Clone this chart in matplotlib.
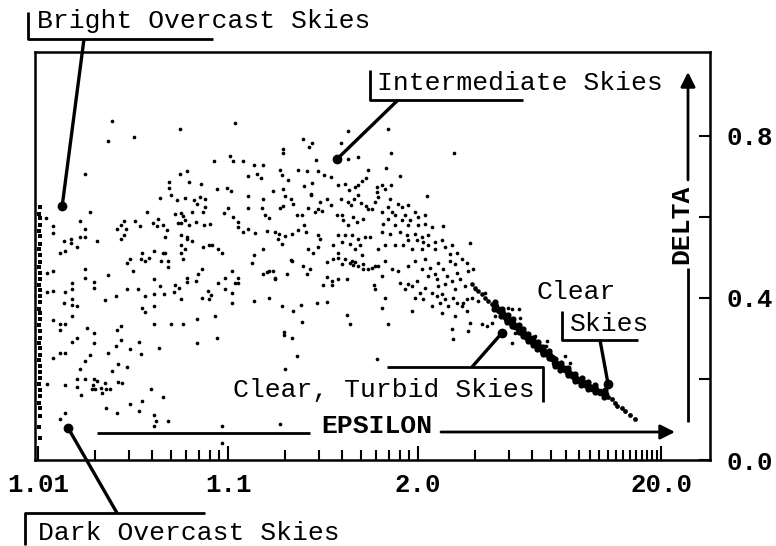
import numpy as np
import matplotlib
matplotlib.use('Agg')
import matplotlib.pyplot as plt

# ---------------- data (epsilon, delta) ----------------
edge_eps = [1.0102, 1.0101, 1.0103, 1.0102, 1.0101, 1.0102, 1.0103, 1.0101, 1.0102, 1.0102,
            1.0101, 1.0103, 1.0102, 1.0101, 1.0102, 1.0103, 1.0102, 1.0101, 1.0102, 1.0103,
            1.0101, 1.0102, 1.0102, 1.0101, 1.0103, 1.0102, 1.0101, 1.0102, 1.0103, 1.0102,
            1.0101, 1.0102, 1.0103, 1.0101, 1.0102, 1.0102, 1.0101, 1.0103]
edge_delta = [0.625, 0.608, 0.598, 0.581, 0.566, 0.552, 0.534, 0.521, 0.507, 0.489,
              0.476, 0.462, 0.447, 0.431, 0.420, 0.404, 0.391, 0.373, 0.362, 0.347,
              0.333, 0.318, 0.302, 0.289, 0.276, 0.259, 0.247, 0.231, 0.218, 0.203,
              0.188, 0.172, 0.158, 0.141, 0.128, 0.109, 0.082, 0.055]

overcast_pts = [
    (1.0245, 0.837), (1.0559, 0.817), (1.0234, 0.788), (1.0320, 0.798), (1.0177, 0.706),
    (1.0559, 0.706), (1.0608, 0.714), (1.0490, 0.686), (1.0490, 0.672), (1.0623, 0.686),
    (1.0721, 0.681), (1.0501, 0.654), (1.0439, 0.647), (1.0539, 0.642), (1.0594, 0.647),
    (1.0662, 0.642), (1.0687, 0.632), (1.0712, 0.649), (1.0188, 0.612), (1.0120, 0.578),
    (1.0120, 0.560), (1.0166, 0.590), (1.0177, 0.570), (1.0177, 0.551), (1.0166, 0.551),
    (1.0149, 0.546), (1.0137, 0.541), (1.0149, 0.536), (1.0160, 0.526), (1.0204, 0.541),
    (1.0130, 0.511), (1.0139, 0.516), (1.0260, 0.570), (1.0273, 0.580), (1.0282, 0.590),
    (1.0290, 0.570), (1.0282, 0.556), (1.0273, 0.546), (1.0324, 0.590), (1.0344, 0.578),
    (1.0375, 0.612), (1.0403, 0.585), (1.0428, 0.595), (1.0423, 0.578), (1.0455, 0.580),
    (1.0478, 0.568), (1.0466, 0.551), (1.0526, 0.607), (1.0566, 0.610), (1.0580, 0.602),
    (1.0566, 0.585), (1.0546, 0.585), (1.0594, 0.593), (1.0623, 0.580), (1.0647, 0.612),
    (1.0679, 0.588), (1.0737, 0.612), (1.0747, 0.580), (1.0566, 0.556), (1.0608, 0.551),
    (1.0608, 0.546), (1.0647, 0.541), (1.0566, 0.531), (1.0594, 0.521), (1.0566, 0.511),
    (1.0353, 0.511), (1.0408, 0.516), (1.0455, 0.511), (1.0466, 0.511), (1.0737, 0.526),
    (1.0120, 0.467), (1.0120, 0.417), (1.0139, 0.415), (1.0151, 0.422), (1.0151, 0.437),
    (1.0177, 0.472), (1.0177, 0.449), (1.0197, 0.440), (1.0197, 0.425), (1.0234, 0.457),
    (1.0294, 0.486), (1.0305, 0.496), (1.0316, 0.467), (1.0348, 0.496), (1.0366, 0.491),
    (1.0384, 0.499), (1.0444, 0.491), (1.0483, 0.491), (1.0483, 0.477), (1.0580, 0.496),
    (1.0730, 0.472), (1.0695, 0.459), (1.0679, 0.442), (1.0608, 0.449), (1.0608, 0.440),
    (1.0526, 0.432), (1.0552, 0.425), (1.0520, 0.415), (1.0408, 0.447), (1.0439, 0.430),
    (1.0408, 0.410), (1.0366, 0.405), (1.0336, 0.422), (1.0294, 0.422), (1.0256, 0.405),
    (1.0225, 0.395), (1.0460, 0.410), (1.0566, 0.398), (1.0730, 0.400), (1.0137, 0.388),
    (1.0151, 0.398), (1.0151, 0.383), (1.0160, 0.380), (1.0151, 0.356), (1.0353, 0.375),
    (1.0366, 0.365), (1.0408, 0.380), (1.0120, 0.346), (1.0130, 0.336), (1.0139, 0.336),
    (1.0130, 0.321), (1.0180, 0.326), (1.0197, 0.314), (1.0160, 0.301), (1.0151, 0.291),
    (1.0260, 0.321), (1.0273, 0.331), (1.0273, 0.296), (1.0256, 0.281), (1.0197, 0.289),
    (1.0408, 0.336), (1.0501, 0.336), (1.0580, 0.336), (1.0687, 0.348), (1.0687, 0.289),
    (1.0340, 0.291), (1.0305, 0.274), (1.0348, 0.262), (1.0433, 0.277), (1.0234, 0.264),
    (1.0188, 0.259), (1.0177, 0.244), (1.0130, 0.264), (1.0139, 0.264), (1.0120, 0.252),
    (1.0265, 0.237), (1.0245, 0.220), (1.0294, 0.230), (1.0166, 0.225), (1.0160, 0.200),
    (1.0177, 0.200), (1.0197, 0.200), (1.0204, 0.195), (1.0225, 0.190), (1.0195, 0.185),
    (1.0192, 0.175), (1.0200, 0.175), (1.0160, 0.180), (1.0168, 0.160), (1.0139, 0.185),
    (1.0214, 0.178), (1.0228, 0.175), (1.0239, 0.175), (1.0217, 0.165), (1.0265, 0.193),
    (1.0278, 0.190), (1.0394, 0.175), (1.0455, 0.156), (1.0353, 0.146), (1.0305, 0.138),
    (1.0340, 0.121), (1.0228, 0.128), (1.0260, 0.116), (1.0408, 0.111), (1.0418, 0.096),
    (1.0408, 0.084), (1.0483, 0.096), (1.0139, 0.116), (1.0130, 0.101), (1.0112, 0.462),
    (1.0112, 0.415), (1.0112, 0.188), (1.0110, 0.598),
]

intermediate_pts = [
    (1.1088, 0.832), (1.2482, 0.793), (1.2769, 0.783), (1.2670, 0.773), (1.1948, 0.768),
    (1.1948, 0.758), (1.4280, 0.812), (1.3935, 0.783), (1.4834, 0.748), (1.4280, 0.743),
    (1.2904, 0.741), (1.1024, 0.751), (1.0844, 0.738), (1.1062, 0.738), (1.1200, 0.738),
    (1.1370, 0.728), (1.1528, 0.728), (1.1275, 0.701), (1.1421, 0.706), (1.1492, 0.696),
    (1.1878, 0.716), (1.1923, 0.704), (1.2068, 0.691), (1.2336, 0.716), (1.2603, 0.714),
    (1.2769, 0.684), (1.2970, 0.714), (1.3201, 0.704), (1.2513, 0.677), (1.2735, 0.657),
    (1.3484, 0.699), (1.3793, 0.679), (1.4128, 0.681), (1.4333, 0.667), (1.4660, 0.674),
    (1.4834, 0.679), (1.5325, 0.696), (1.5066, 0.689), (1.5457, 0.716), (1.0875, 0.669),
    (1.0985, 0.672), (1.1037, 0.664), (1.1275, 0.652), (1.1528, 0.644), (1.1726, 0.664),
    (1.1948, 0.669), (1.1995, 0.652), (1.2144, 0.644), (1.2198, 0.632), (1.1948, 0.627),
    (1.1878, 0.622), (1.2735, 0.654), (1.3049, 0.637), (1.2970, 0.620), (1.3315, 0.644),
    (1.3484, 0.630), (1.3935, 0.644), (1.4280, 0.637), (1.4604, 0.644), (1.4436, 0.630),
    (1.4834, 0.654), (1.5009, 0.635), (1.5325, 0.627), (1.5723, 0.620), (1.0757, 0.644),
    (1.0757, 0.625), (1.1000, 0.622), (1.0952, 0.610), (1.1275, 0.622), (1.1510, 0.622),
    (1.1566, 0.605), (1.1644, 0.598), (1.1062, 0.600), (1.1130, 0.588), (1.1130, 0.575),
    (1.1200, 0.563), (1.1275, 0.570), (1.1387, 0.560), (1.0804, 0.583), (1.1605, 0.565),
    (1.1768, 0.563), (1.1855, 0.558), (1.1995, 0.553), (1.2171, 0.558), (1.2336, 0.568),
    (1.2513, 0.580), (1.2573, 0.563), (1.2307, 0.605), (1.2450, 0.605), (1.2636, 0.622),
    (1.2870, 0.612), (1.3120, 0.615), (1.3744, 0.605), (1.3984, 0.605), (1.4033, 0.593),
    (1.4280, 0.580), (1.4548, 0.600), (1.4775, 0.588), (1.5128, 0.595), (1.5457, 0.620),
    (1.2970, 0.556), (1.3049, 0.546), (1.2970, 0.526), (1.3793, 0.556), (1.4128, 0.556),
    (1.4493, 0.556), (1.4834, 0.546), (1.5260, 0.551), (1.5589, 0.551), (1.3570, 0.531),
    (1.3984, 0.538), (1.4385, 0.533), (1.4660, 0.521), (1.4951, 0.531), (1.0823, 0.531),
    (1.0887, 0.521), (1.0930, 0.511), (1.1370, 0.506), (1.1528, 0.521), (1.1923, 0.533),
    (1.1833, 0.546), (1.2636, 0.521), (1.2802, 0.511), (1.3793, 0.511), (1.5066, 0.506),
    (1.0794, 0.531),
    (1.1337, 0.486), (1.1050, 0.467), (1.1130, 0.449), (1.0964, 0.449), (1.0887, 0.437),
    (1.1088, 0.437), (1.1130, 0.437), (1.0785, 0.417), (1.0813, 0.407), (1.0794, 0.398),
    (1.0964, 0.422), (1.1050, 0.412), (1.1050, 0.388), (1.1605, 0.464), (1.1644, 0.467),
    (1.1768, 0.449), (1.1768, 0.447), (1.2043, 0.459), (1.1528, 0.459), (1.1726, 0.467),
    (1.2144, 0.494), (1.2171, 0.491), (1.2482, 0.479), (1.2702, 0.472), (1.2603, 0.459),
    (1.1370, 0.393), (1.1644, 0.400), (1.1923, 0.380), (1.2198, 0.368), (1.2422, 0.383),
    (1.2937, 0.388), (1.3315, 0.390), (1.0854, 0.356), (1.0875, 0.301), (1.2450, 0.341),
    (1.1971, 0.316), (1.1971, 0.309), (1.2171, 0.301), (1.2307, 0.257), (1.1995, 0.225),
    (1.3163, 0.432), (1.3315, 0.452), (1.3527, 0.442), (1.3527, 0.432), (1.3793, 0.447),
    (1.4231, 0.447), (1.3315, 0.489), (1.3570, 0.496), (1.3793, 0.499), (1.3984, 0.484),
    (1.4128, 0.496), (1.4385, 0.486), (1.4660, 0.489), (1.4834, 0.479), (1.5128, 0.484),
    (1.5457, 0.472), (1.5723, 0.474), (1.5938, 0.479), (1.4493, 0.491), (1.4548, 0.481),
    (1.5128, 0.472), (1.4231, 0.358), (1.4385, 0.336), (1.5847, 0.432), (1.0930, 0.084),
    (1.0930, 0.042), (1.1878, 0.089),
]

transition_pts = [
    (1.6951, 0.817), (1.7211, 0.758), (2.5476, 0.758), (1.6784, 0.721), (1.8040, 0.701),
    (1.6081, 0.674), (1.6081, 0.662), (1.6156, 0.649), (1.6463, 0.679), (1.6704, 0.669),
    (1.7211, 0.679), (1.7123, 0.644), (2.1154, 0.652), (1.5938, 0.637), (1.7843, 0.632),
    (1.8234, 0.625), (1.8855, 0.630), (1.6951, 0.625), (1.7295, 0.612), (1.6463, 0.612),
    (1.7568, 0.605), (1.8543, 0.605), (1.9643, 0.612), (2.0000, 0.600), (2.0880, 0.605),
    (1.9077, 0.593), (1.8234, 0.593), (1.6951, 0.595), (1.6543, 0.583), (1.7568, 0.580),
    (1.8855, 0.580), (2.0000, 0.580), (2.0880, 0.583), (2.1850, 0.575), (2.3540, 0.578),
    (1.6463, 0.563), (1.7123, 0.558), (1.8040, 0.563), (1.8743, 0.556), (1.9643, 0.558),
    (2.0490, 0.551), (2.1280, 0.556), (1.8855, 0.543), (1.9882, 0.543), (2.0620, 0.538),
    (2.2290, 0.538), (2.3360, 0.543), (2.5090, 0.531), (2.3870, 0.526), (2.2290, 0.521),
    (2.1280, 0.531), (2.0490, 0.521), (1.9300, 0.521), (1.8340, 0.531), (1.7570, 0.531),
    (1.6700, 0.531), (1.6160, 0.521), (2.6020, 0.511), (2.4740, 0.509), (2.8780, 0.536),
    (1.6156, 0.479), (1.6704, 0.491), (1.7295, 0.472), (1.6463, 0.454), (1.7843, 0.467),
    (1.8855, 0.479), (1.9643, 0.491), (2.0880, 0.496), (2.0490, 0.472), (2.1570, 0.474),
    (2.2750, 0.486), (2.3540, 0.472), (2.2290, 0.459), (2.4740, 0.491), (2.5660, 0.484),
    (2.7080, 0.496), (2.8100, 0.486), (2.6040, 0.462), (2.6640, 0.447), (2.8310, 0.467),
    (2.9400, 0.472), (2.4190, 0.454), (1.5940, 0.422), (1.6700, 0.400), (1.6950, 0.336),
    (1.6080, 0.249), (1.8040, 0.437), (1.8860, 0.435), (1.9300, 0.430), (1.9880, 0.442),
    (2.0880, 0.425), (2.0250, 0.412), (1.9640, 0.400), (2.0620, 0.398), (2.1850, 0.412),
    (2.2610, 0.405), (2.3360, 0.410), (2.3870, 0.398), (2.3050, 0.388), (2.1850, 0.380),
    (2.4380, 0.380), (2.5290, 0.400), (2.6040, 0.388), (2.7080, 0.380), (2.8100, 0.398),
    (2.9210, 0.400), (3.0680, 0.393), (3.2520, 0.412), (2.9950, 0.422), (2.7680, 0.430),
    (2.5660, 0.422), (2.5090, 0.442), (2.3870, 0.435), (2.2750, 0.430), (2.2610, 0.447),
    (2.1280, 0.454), (1.8540, 0.422), (1.6460, 0.375), (1.9300, 0.368), (2.3360, 0.363),
    (2.5660, 0.356), (2.5090, 0.323), (2.5290, 0.299), (2.8780, 0.338), (2.8310, 0.319),
    (2.7300, 0.388), (2.8100, 0.368), (3.1700, 0.336), (3.3050, 0.331), (3.4410, 0.338),
    (3.5430, 0.356), (3.9680, 0.375), (4.1240, 0.373), (4.3950, 0.373), (4.4410, 0.351),
    (4.2390, 0.314), (4.1240, 0.289), (5.1280, 0.306), (5.7750, 0.294), (5.7350, 0.281),
    (6.9380, 0.257), (7.3100, 0.240),
]

clear_band_start_pts = [
    (2.92, 0.435), (3.00, 0.425), (3.07, 0.417), (3.17, 0.410), (3.25, 0.400),
    (3.33, 0.393), (3.45, 0.385),
]
clear_band_pts = [
    (3.54, 0.380), (3.67, 0.370), (3.77, 0.363),
    (3.87, 0.356), (3.94, 0.348), (4.05, 0.343), (4.12, 0.338), (4.24, 0.331),
    (4.40, 0.323), (4.48, 0.319), (4.57, 0.314), (4.70, 0.306), (4.79, 0.301),
    (4.93, 0.296), (5.03, 0.291), (5.13, 0.286), (5.28, 0.281), (5.39, 0.277),
    (5.55, 0.269), (5.66, 0.264), (5.89, 0.259), (6.07, 0.252), (6.26, 0.240),
    (6.46, 0.235), (6.66, 0.230), (6.94, 0.225), (7.16, 0.217), (7.46, 0.210),
    (7.70, 0.202), (7.95, 0.198), (8.30, 0.193), (8.57, 0.188), (8.85, 0.183),
    (9.24, 0.178), (9.54, 0.175), (10.08, 0.168), (10.64, 0.163),
]
clear_band_tail_pts = [
    (11.0, 0.156), (11.49, 0.151), (11.88, 0.141), (12.15, 0.133), (12.85, 0.128),
    (13.29, 0.121), (14.05, 0.111), (14.87, 0.101),
]
clear_band_edge_pts = [
    (3.55, 0.390), (3.78, 0.373), (3.98, 0.358), (4.17, 0.348), (4.40, 0.333),
    (4.58, 0.324), (4.80, 0.311), (5.05, 0.301), (5.27, 0.291), (5.57, 0.279),
    (5.90, 0.269), (6.27, 0.250), (6.65, 0.240), (7.18, 0.227), (7.70, 0.212),
    (8.25, 0.203), (8.85, 0.193), (9.55, 0.185), (10.6, 0.172),
    (3.50, 0.372), (3.74, 0.355), (3.95, 0.340), (4.14, 0.330), (4.38, 0.315),
    (4.55, 0.306), (4.78, 0.293), (5.02, 0.283), (5.25, 0.273), (5.55, 0.261),
    (5.88, 0.251), (6.24, 0.232), (6.62, 0.222), (7.15, 0.209), (7.68, 0.194),
    (8.22, 0.185), (8.82, 0.175), (9.50, 0.167), (10.5, 0.155),
]

x_major = [1.01, 1.1, 2.0, 20.0]
x_major_labels = ['1.01', '1.1', '2.0', '20.0']
y_major = [0.0, 0.4, 0.8]
y_major_labels = ['0.0', '0.4', '0.8']
y_minor = [0.2, 0.6]

# annotation anchor points (epsilon, delta)
anchor_bright = (1.0134, 0.627)
anchor_inter = (1.3746, 0.743)
anchor_clear = (11.0, 0.188)
anchor_turbid = (3.768, 0.314)
anchor_dark = (1.0144, 0.079)

# ---------------- figure ----------------
W, H = 776, 546
MONO = 'Liberation Mono'
fig = plt.figure(figsize=(W / 100, H / 100), dpi=100)
fig.patch.set_facecolor('white')
ax = fig.add_axes([35 / W, (H - 460) / H, 675 / W, 408 / H])


def fwd(x):
    x = np.asarray(x, dtype=float)
    return np.log10(np.clip(x - 1.0, 1e-9, None))


def inv(y):
    return 1.0 + 10.0 ** np.asarray(y, dtype=float)


ax.set_xscale('function', functions=(fwd, inv))
ax.set_xlim(1.00964, 35.4)
ax.set_ylim(0, 1.0074)


def split(pts):
    a = np.array(pts, dtype=float)
    return a[:, 0], a[:, 1]


ax.scatter(edge_eps, edge_delta, s=6, c='black', marker='s', linewidths=0)
for pts in (overcast_pts, intermediate_pts, transition_pts):
    ex, dy = split(pts)
    ax.scatter(ex, dy, s=7, c='black', linewidths=0)
ex, dy = split(clear_band_start_pts)
ax.scatter(ex, dy, s=11, c='black', linewidths=0)
ex, dy = split(clear_band_pts)
ax.scatter(ex, dy, s=30, c='black', linewidths=0)
ex, dy = split(clear_band_edge_pts)
ax.scatter(ex, dy, s=20, c='black', linewidths=0)
ex, dy = split(clear_band_tail_pts)
ax.scatter(ex, dy, s=12, c='black', linewidths=0)

# ticks
minor_x = list(np.arange(1.02, 1.095, 0.01)) + list(np.arange(1.2, 1.95, 0.1)) + list(np.arange(3.0, 19.5, 1.0))
ax.set_xticks(x_major)
ax.set_xticks(minor_x, minor=True)
ax.set_xticklabels(x_major_labels, fontfamily=MONO, fontweight='bold', fontsize=18.5)
ax.tick_params(axis='x', which='both', direction='in', top=False, bottom=True,
               width=1.5, pad=9, colors='black')
ax.tick_params(axis='x', which='major', length=10)
ax.tick_params(axis='x', which='minor', length=7)

ax.yaxis.tick_right()
ax.set_yticks(y_major)
ax.set_yticks(y_minor, minor=True)
ax.set_yticklabels(y_major_labels, fontfamily=MONO, fontweight='bold', fontsize=18.5)
ax.tick_params(axis='y', which='both', direction='in', left=False, right=True,
               length=8, width=1.5, pad=12)
for sp in ax.spines.values():
    sp.set_linewidth(1.8)

# ---------------- annotations overlay ----------------
ov = fig.add_axes([0, 0, 1, 1], zorder=5)
ov.set_xlim(0, W)
ov.set_ylim(H, 0)
ov.axis('off')
ov.patch.set_alpha(0)


def to_px(pt):
    X, Y = ax.transData.transform(pt)
    return X, H - Y


LW = 2.0
TXT = dict(fontfamily=MONO, fontsize=19, color='black')


def line(xs, ys, lw=LW):
    ov.plot(xs, ys, color='black', lw=lw, solid_capstyle='butt')


def leader(start, anchor):
    px, py = to_px(anchor)
    line([start[0], px], [start[1], py], lw=2.4)
    ov.plot(px, py, 'o', color='black', ms=6)


# Bright Overcast Skies
ov.text(37, 21, 'Bright Overcast Skies', ha='left', va='center', **TXT)
line([28, 28, 213], [12, 39, 39])
leader((84, 39), anchor_bright)

# Intermediate Skies
ov.text(377, 83, 'Intermediate Skies', ha='left', va='center', **TXT)
line([370, 370, 523], [70, 100, 100])
leader((398, 100), anchor_inter)

# Clear Skies
ov.text(537, 292, 'Clear', ha='left', va='center', **TXT)
ov.text(570, 324, 'Skies', ha='left', va='center', **TXT)
line([562, 562, 638], [311, 340, 340])
leader((600, 340), anchor_clear)

# Clear, Turbid Skies
ov.text(233, 390, 'Clear, Turbid Skies', ha='left', va='center', **TXT)
line([387, 543, 543], [367, 367, 402])
leader((472, 367), anchor_turbid)

# Dark Overcast Skies
ov.text(38, 533, 'Dark Overcast Skies', ha='left', va='center', **TXT)
line([25, 25, 205], [545, 513, 513])
leader((117, 513), anchor_dark)

# EPSILON arrow
ov.text(377, 433, 'EPSILON', ha='center', va='baseline', fontweight='bold',
        fontfamily=MONO, fontsize=19)
line([97, 310], [433, 433])
ov.annotate('', xy=(675, 432), xytext=(441, 432),
            arrowprops=dict(arrowstyle='-|>', lw=2.0, color='black', mutation_scale=22,
                            shrinkA=0, shrinkB=0))

# DELTA arrow
ov.text(681, 224, 'DELTA', ha='center', va='center', rotation=90, fontweight='bold',
        fontfamily=MONO, fontsize=19)
line([688, 688], [422, 268])
ov.annotate('', xy=(688, 72), xytext=(688, 180),
            arrowprops=dict(arrowstyle='-|>', lw=2.0, color='black', mutation_scale=22,
                            shrinkA=0, shrinkB=0))

fig.savefig('out.png', dpi=100, facecolor='white')
